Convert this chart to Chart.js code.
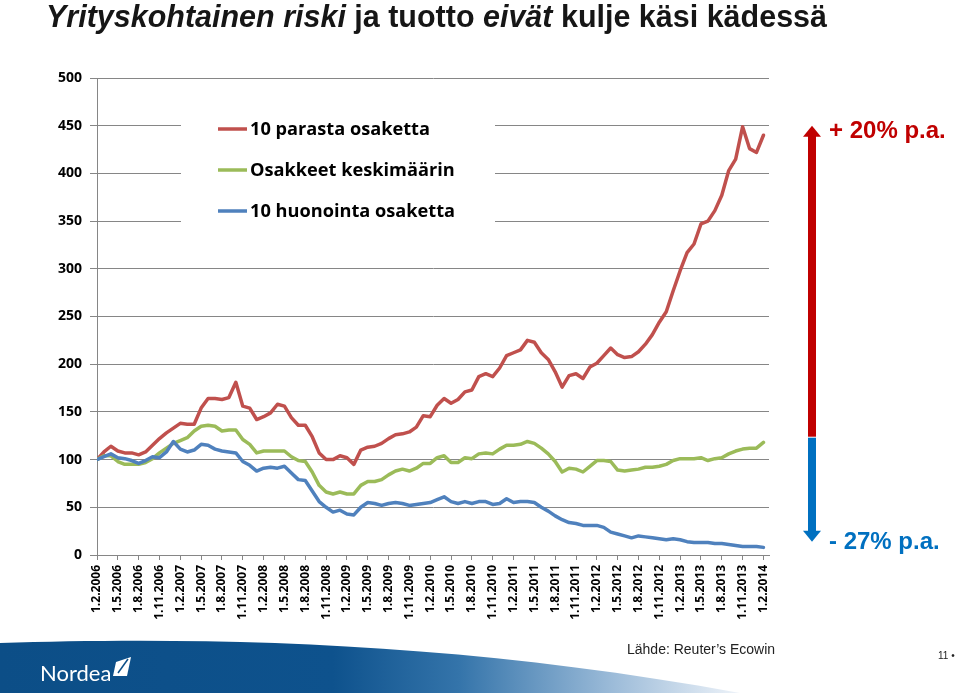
<!DOCTYPE html>
<html>
<head>
<meta charset="utf-8">
<script src="https://cdn.jsdelivr.net/npm/chart.js@4"></script>
<style>
  html, body { margin: 0; padding: 0; background: #fff; }
  #wrap { width: 960px; height: 693px; position: relative; }
</style>
</head>
<body>
<div id="wrap"><canvas id="chart" width="960" height="693"></canvas></div>
<script>
// quarterly tick labels shown on the x axis (data is monthly, Feb 2006 .. Feb 2014)
const quarterLabels = [
  "1.2.2006", "1.5.2006", "1.8.2006", "1.11.2006",
  "1.2.2007", "1.5.2007", "1.8.2007", "1.11.2007",
  "1.2.2008", "1.5.2008", "1.8.2008", "1.11.2008",
  "1.2.2009", "1.5.2009", "1.8.2009", "1.11.2009",
  "1.2.2010", "1.5.2010", "1.8.2010", "1.11.2010",
  "1.2.2011", "1.5.2011", "1.8.2011", "1.11.2011",
  "1.2.2012", "1.5.2012", "1.8.2012", "1.11.2012",
  "1.2.2013", "1.5.2013", "1.8.2013", "1.11.2013",
  "1.2.2014"
];

const seriesNames = ["10 parasta osaketta", "Osakkeet keskimäärin", "10 huonointa osaketta"];

// index values, one per month
const best10 = [
  100, 108, 114, 109, 107, 107, 105, 108, 115, 122,
  128, 133, 138, 137, 137, 154, 164, 164, 163, 165,
  181, 156, 154, 142, 145, 149, 158, 156, 144, 136,
  136, 124, 107, 100, 100, 104, 102, 95, 110, 113,
  114, 117, 122, 126, 127, 129, 134, 146, 145, 157,
  164, 159, 163, 171, 173, 187, 190, 187, 196, 209,
  212, 215, 225, 223, 212, 205, 192, 176, 188, 190,
  185, 197, 201, 209, 217, 210, 207, 208, 213, 221,
  231, 244, 255, 277, 298, 317, 326, 347, 350, 361,
  377, 403, 415, 449, 426, 422, 440
];
const average = [
  100, 104, 104, 98, 95, 95, 95, 97, 101, 107,
  112, 117, 120, 123, 130, 135, 136, 135, 130, 131,
  131, 121, 116, 107, 109, 109, 109, 109, 103, 99,
  98, 87, 73, 66, 64, 66, 64, 64, 73, 77,
  77, 79, 84, 88, 90, 88, 91, 96, 96, 102,
  104, 97, 97, 102, 101, 106, 107, 106, 111, 115,
  115, 116, 119, 117, 112, 106, 98, 87, 91, 90,
  87, 93, 99, 99, 98, 89, 88, 89, 90, 92,
  92, 93, 95, 99, 101, 101, 101, 102, 99, 101,
  102, 106, 109, 111, 112, 112, 118
];
const worst10 = [
  100, 103, 106, 102, 101, 99, 96, 99, 103, 102,
  108, 119, 111, 108, 110, 116, 115, 111, 109, 108,
  107, 98, 94, 88, 91, 92, 91, 93, 86, 79,
  78, 67, 56, 50, 45, 47, 43, 42, 50, 55,
  54, 52, 54, 55, 54, 52, 53, 54, 55, 58,
  61, 56, 54, 56, 54, 56, 56, 53, 54, 59,
  55, 56, 56, 55, 50, 46, 41, 37, 34, 33,
  31, 31, 31, 29, 24, 22, 20, 18, 20, 19,
  18, 17, 16, 17, 16, 14, 13, 13, 13, 12,
  12, 11, 10, 9, 9, 9, 8
];

const colors = { red: "#C0504D", green: "#9BBB59", blue: "#4F81BD", grid: "#868686" };

function toPoints(arr) { return arr.map((v, i) => ({ x: i, y: v })); }

const decor = {
  id: "decor",
  beforeDatasetsDraw(chart) {
    const ctx = chart.ctx;
    ctx.save();
    // legend box hides the grid lines behind it
    ctx.fillStyle = "#fff";
    ctx.fillRect(181, 102, 314, 134);
    ctx.font = 'bold 20px "Open Sans", "Liberation Sans", sans-serif';
    const fit = 20 * 180 / ctx.measureText(seriesNames[0]).width;
    ctx.font = 'bold ' + fit.toFixed(1) + 'px "Open Sans", "Liberation Sans", sans-serif';
    ctx.textBaseline = "middle";
    chart.data.datasets.forEach((ds, i) => {
      const y = 129 + i * 41;
      ctx.strokeStyle = ds.borderColor;
      ctx.lineWidth = 3.5;
      ctx.beginPath();
      ctx.moveTo(218, y);
      ctx.lineTo(247, y);
      ctx.stroke();
      ctx.fillStyle = "#000";
      ctx.fillText(ds.label, 250, y + 1);
    });
    ctx.restore();
  },
  afterDraw(chart) {
    const ctx = chart.ctx;
    const ys = chart.scales.y;
    ctx.save();

    // title, mixed italic runs, fitted to the slide width
    const runs = [
      ["Yrityskohtainen riski", true], [" ja tuotto ", false],
      ["eivät", true], [" kulje käsi kädessä", false]
    ];
    const fam = '31px "Liberation Sans Narrow", "Liberation Sans", Arial, sans-serif';
    let total = 0;
    runs.forEach(r => { ctx.font = (r[1] ? "italic bold " : "bold ") + fam; total += ctx.measureText(r[0]).width; });
    ctx.translate(46, 27);
    ctx.scale(781 / total, 1);
    ctx.fillStyle = "#161616";
    ctx.textBaseline = "alphabetic";
    let x = 0;
    runs.forEach(r => {
      ctx.font = (r[1] ? "italic bold " : "bold ") + fam;
      ctx.fillText(r[0], x, 0);
      x += ctx.measureText(r[0]).width;
    });
    ctx.restore();

    // return arrows on the right
    ctx.save();
    const ax = 812;
    const top = ys.getPixelForValue(450);
    const split = ys.getPixelForValue(124);
    const bottom = ys.getPixelForValue(14);
    ctx.fillStyle = "#C00000";
    ctx.fillRect(ax - 4, top + 10, 8, split - top - 10);
    ctx.beginPath();
    ctx.moveTo(ax, top); ctx.lineTo(ax + 9, top + 11); ctx.lineTo(ax - 9, top + 11); ctx.closePath();
    ctx.fill();
    ctx.fillStyle = "#0070C0";
    ctx.fillRect(ax - 4, split + 1, 8, bottom - split - 11);
    ctx.beginPath();
    ctx.moveTo(ax, bottom); ctx.lineTo(ax + 9, bottom - 11); ctx.lineTo(ax - 9, bottom - 11); ctx.closePath();
    ctx.fill();
    ctx.font = 'bold 24px "Liberation Sans", Arial, sans-serif';
    ctx.textBaseline = "alphabetic";
    ctx.fillStyle = "#C00000";
    ctx.fillText("+ 20% p.a.", 829, 138);
    ctx.fillStyle = "#0070C0";
    ctx.fillText("- 27% p.a.", 829, 549);
    ctx.restore();

    // footer band with logo
    ctx.save();
    const g = ctx.createLinearGradient(0, 0, 740, 0);
    g.addColorStop(0, "#0c4e87");
    g.addColorStop(0.45, "#0e528d");
    g.addColorStop(0.62, "#3474aa");
    g.addColorStop(0.83, "#9dbcd9");
    g.addColorStop(1, "#eef3f9");
    ctx.fillStyle = g;
    ctx.beginPath();
    ctx.moveTo(0, 643);
    ctx.bezierCurveTo(200, 637, 450, 640, 740, 693);
    ctx.lineTo(0, 693);
    ctx.closePath();
    ctx.fill();
    ctx.fillStyle = "#fff";
    ctx.font = '22px "Lato", "Liberation Sans", sans-serif';
    ctx.fillText("Nordea", 40, 681);
    ctx.beginPath();
    ctx.moveTo(116, 662); ctx.lineTo(131, 657); ctx.lineTo(127, 676); ctx.lineTo(113, 676); ctx.closePath();
    ctx.fill();
    ctx.strokeStyle = "#0c4e87";
    ctx.lineWidth = 1.5;
    ctx.beginPath(); ctx.moveTo(118, 673); ctx.lineTo(128, 659); ctx.stroke();

    ctx.fillStyle = "#222";
    ctx.font = '14px "Liberation Sans", Arial, sans-serif';
    ctx.fillText("Lähde: Reuter\u2019s Ecowin", 627, 654);
    ctx.font = '10px "Liberation Sans", Arial, sans-serif';
    ctx.fillText("11 \u2022", 938, 659);
    ctx.restore();
  }
};

new Chart(document.getElementById("chart"), {
  type: "line",
  data: {
    datasets: [
      { label: seriesNames[0], data: toPoints(best10), borderColor: colors.red, order: 3 },
      { label: seriesNames[1], data: toPoints(average), borderColor: colors.green, order: 2 },
      { label: seriesNames[2], data: toPoints(worst10), borderColor: colors.blue, order: 1 }
    ]
  },
  options: {
    responsive: false,
    animation: false,
    layout: { padding: { left: 0, right: 191, top: 78, bottom: 0 } },
    elements: {
      line: { borderWidth: 3.5, tension: 0, borderJoinStyle: "round", borderCapStyle: "round", fill: false },
      point: { radius: 0 }
    },
    scales: {
      x: {
        type: "linear",
        min: 0,
        max: 96.8,
        afterFit: s => { s.height = 138; },
        grid: { drawOnChartArea: false, drawTicks: true, tickLength: 5, color: colors.grid },
        border: { color: colors.grid },
        ticks: {
          stepSize: 3,
          includeBounds: false,
          autoSkip: false,
          maxRotation: 90,
          minRotation: 90,
          padding: 5,
          color: "#000",
          font: { family: '"Open Sans", "Liberation Sans", sans-serif', size: 12, weight: "bold" },
          callback: v => quarterLabels[Math.round(v / 3)]
        }
      },
      y: {
        min: 0,
        max: 500,
        afterFit: s => { s.width = 97; },
        grid: { color: colors.grid, tickLength: 7 },
        border: { color: colors.grid },
        ticks: {
          stepSize: 50,
          padding: 8,
          color: "#000",
          font: { family: '"Open Sans", "Liberation Sans", sans-serif', size: 14, weight: "bold" }
        }
      }
    },
    plugins: { legend: { display: false }, tooltip: { enabled: false } }
  },
  plugins: [decor]
});
</script>
</body>
</html>
